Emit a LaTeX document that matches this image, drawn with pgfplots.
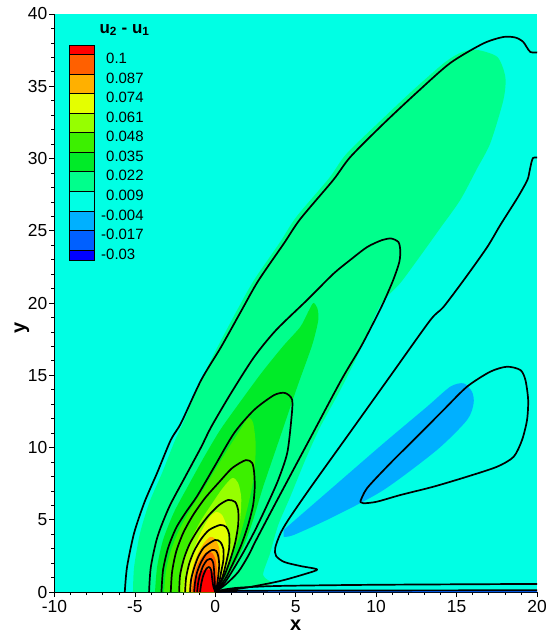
\documentclass[border=0pt]{standalone}
\usepackage{fontspec}
\setmainfont{Liberation Sans}
\usepackage{pgfplots}
\pgfplotsset{compat=1.18}

% contour level colours, from the highest band down
\definecolor{lvA}{RGB}{255,0,0}     % > 0.1
\definecolor{lvB}{RGB}{255,96,0}    % 0.087 .. 0.1
\definecolor{lvC}{RGB}{255,176,0}   % 0.074 .. 0.087
\definecolor{lvD}{RGB}{228,255,0}   % 0.061 .. 0.074
\definecolor{lvE}{RGB}{150,255,0}   % 0.048 .. 0.061
\definecolor{lvF}{RGB}{60,240,0}    % 0.035 .. 0.048
\definecolor{lvG}{RGB}{0,235,40}    % 0.022 .. 0.035
\definecolor{lvH}{RGB}{0,255,140}   % 0.009 .. 0.022
\definecolor{lvI}{RGB}{0,255,228}   % -0.004 .. 0.009
\definecolor{lvJ}{RGB}{0,176,255}   % -0.017 .. -0.004
\definecolor{lvK}{RGB}{0,96,255}    % -0.03 .. -0.017
\definecolor{lvL}{RGB}{0,0,255}     % < -0.03

\pgfplotsset{
  band/.style={draw=none, fill=#1, smooth, tension=0.45},
  iso/.style={black, line width=1.7bp, smooth, tension=0.45, line join=round},
}

\begin{document}
\begin{tikzpicture}
\useasboundingbox (-54.5bp,-42bp) rectangle (492.5bp,592bp);
\begin{axis}[
  at={(0,0)}, anchor=south west,
  scale only axis, width=482.5bp, height=578bp,
  xmin=-10, xmax=20, ymin=0, ymax=40,
  axis x line*=bottom, axis y line*=left,
  axis line style={-, black, line width=0.7bp},
  axis background/.style={fill=lvI},
  xtick={-10,-5,0,5,10,15,20}, xticklabels={-10,-5,0,5,10,15,20},
  ytick={0,5,10,15,20,25,30,35,40}, yticklabels={0,5,10,15,20,25,30,35,40},
  minor x tick num=4, minor y tick num=4,
  tick align=outside, major tick length=5bp, minor tick length=3bp,
  tick style={black, line width=0.6bp},
  ticklabel style={font=\fontsize{17.5}{18}\selectfont, inner sep=0.5bp},
  xticklabel style={yshift=-2.5bp},
  yticklabel style={xshift=-1.5bp},
  xlabel={x}, ylabel={y},
  label style={font=\fontsize{20}{20}\selectfont\bfseries, inner sep=0pt},
  xlabel style={at={(axis description cs:0.5,-0.0571)}, anchor=center},
  ylabel style={at={(axis description cs:-0.0674,0.457)}, anchor=center},
]

% ---- filled bands ----
\addplot[band=lvH] coordinates {
 (-5.12,0) (-5.05,1.73) (-4.68,4.08) (-4.09,6.23) (-3.31,8.24) (-2.50,10.52)
 (-2.00,11.70) (-0.88,14.67) (0.17,17.02) (1.36,19.52) (2.41,21.59) (4.03,24.22)
 (5.03,25.95) (7.08,28.65) (8.14,30.31) (10.26,32.60) (12.37,34.81) (14.30,36.68)
 (15.36,37.37) (16.29,37.51) (17.54,37.02) (18.03,35.64) (17.91,34.05) (17.10,31.07)
 (16.29,29.34) (15.23,27.13) (13.99,25.19) (12.74,23.25) (11.50,21.38) (10.26,19.86)
 (9.01,16.75) (7.77,13.98) (6.52,11.42) (5.59,9.13) (4.65,6.57) (3.91,4.64)
 (3.41,2.70) (2.97,1.18) (3.53,0.55) (2.17,0.28) (0.92,0.10) (0,0)};

\addplot[band=lvJ] coordinates {
 (4.24,4.29) (7.35,7.29) (10.46,10.29) (13.16,12.82) (14.61,14.21) (15.44,14.44)
 (15.96,13.86) (16.06,13.06) (15.65,11.90) (13.78,9.83) (10.46,7.06) (7.35,5.21)
 (4.86,3.94) (4.24,3.83)};

\addplot[band=lvG] coordinates {
 (-3.75,0) (-3.62,1.73) (-3.25,3.60) (-2.56,5.54) (-1.63,7.47) (-0.70,9.34)
 (0.30,11.21) (1.54,13.15) (2.91,15.22) (4.22,17.02) (5.28,18.34) (5.77,19.38)
 (6.09,20.00) (6.34,19.65) (6.40,18.82) (6.02,17.09) (5.09,14.19) (4.03,10.73)
 (2.97,7.27) (2.35,4.98) (1.79,3.25) (1.17,1.87) (0.61,0.83) (0,0)};

\addplot[band=lvF] coordinates {
 (-3.19,0) (-3.06,1.52) (-2.75,2.91) (-2.25,4.29) (-1.57,5.67) (-0.76,7.06)
 (0.05,8.58) (0.86,10.03) (1.54,11.21) (2.04,12.04) (2.35,11.70) (2.51,10.17)
 (2.41,8.10) (2.04,6.02) (1.54,3.94) (0.98,2.35) (0.48,0.97) (0,0)};

\addplot[band=lvE] coordinates {
 (-2.31,0) (-2.19,1.18) (-1.94,2.35) (-1.51,3.60) (-0.95,4.84) (-0.26,6.02)
 (0.42,7.13) (1.05,7.89) (1.42,7.54) (1.61,6.51) (1.54,4.98) (1.30,3.60)
 (0.86,2.21) (0.42,0.97) (0,0)};

\addplot[band=lvD] coordinates {
 (-2.00,0) (-1.88,1.04) (-1.63,2.08) (-1.26,3.18) (-0.82,4.29) (-0.39,5.12)
 (0.05,5.54) (0.42,5.33) (0.73,4.43) (0.80,3.18) (0.61,1.87) (0.36,0.83) (0,0)};

\addplot[band=lvC] coordinates {
 (-1.66,0) (-1.57,0.83) (-1.38,1.80) (-1.07,2.70) (-0.70,3.39) (-0.32,3.81)
 (-0.01,3.67) (0.24,3.04) (0.30,2.08) (0.21,0.97) (0,0)};

\addplot[band=lvB] coordinates {
 (-1.48,0) (-1.38,0.83) (-1.20,1.66) (-0.88,2.35) (-0.51,2.77) (-0.20,2.70)
 (0.02,2.21) (0.11,1.31) (0.08,0.48) (0,0)};

\addplot[band=lvA] coordinates {
 (-1.29,0) (-1.23,0.69) (-1.07,1.18) (-0.82,1.45) (-0.57,1.56) (-0.32,1.52)
 (-0.07,1.25) (0.05,0.83) (0.06,0.35) (0,0)};

% thin layer along the wall
\addplot[draw=none, fill=lvK] coordinates {
 (0,0) (20.2,0) (20.2,0.1) (5,0.08) (1,0.05)};

% ---- contour lines ----
\addplot[iso] coordinates {
 (-5.63,0) (-5.49,1.73) (-5.05,4.08) (-4.40,6.23) (-3.62,8.24) (-2.77,10.52)
 (-2.13,11.70) (-0.88,14.67) (0.36,16.96) (1.61,19.45) (2.66,21.52) (4.28,24.15)
 (5.28,25.81) (7.33,28.51) (8.39,30.10) (10.44,32.39) (12.56,34.60) (14.61,36.61)
 (16.66,37.96) (17.91,38.41) (18.66,38.37) (19.15,38.06) (19.59,37.37) (20.2,37.37)};

\addplot[iso] coordinates {
 (20.2,30.03) (19.75,30.03) (19.55,29.2) (19.40,28.51) (18.78,27.27) (17.72,25.40)
 (16.91,23.88) (15.54,21.73) (14.18,19.72) (13.37,18.82) (10.88,14.95) (8.39,11.07)
 (5.90,7.20) (4.53,4.98) (4.03,4.01) (3.72,3.04) (3.78,2.49) (4.28,2.08)
 (5.28,1.80) (6.33,1.56) (5.59,1.25) (4.03,0.76) (2.17,0.35) (0.92,0.14) (0,0)};

\addplot[iso] coordinates {
 (-4.12,0) (-4.01,1.73) (-3.60,3.81) (-2.87,5.88) (-1.88,7.96) (-0.88,10.03)
 (-0.26,11.42) (0.98,13.77) (2.41,16.26) (3.78,18.13) (5.71,20.21) (7.33,22.01)
 (8.39,22.98) (9.45,23.88) (10.38,24.36) (10.94,24.46) (11.38,24.22) (11.50,23.67)
 (11.44,22.84) (11.06,21.59) (10.44,20.00) (9.76,18.48) (9.01,16.89) (7.83,14.67)
 (5.84,10.52) (3.85,6.37) (2.54,3.60) (2.04,2.49) (1.42,1.38) (0.67,0.55) (0,0)};

\addplot[iso] coordinates {
 (-3.35,0) (-3.25,1.52) (-2.94,3.04) (-2.44,4.43) (-1.82,5.54) (-1.13,6.64)
 (-0.07,8.65) (1.17,11.00) (2.41,12.60) (3.66,13.63) (4.34,13.77) (4.78,13.29)
 (4.72,11.90) (4.47,9.62) (3.91,7.75) (3.22,6.02) (2.48,4.29) (1.79,2.84)
 (1.17,1.66) (0.61,0.69) (0,0)};

\addplot[iso] coordinates {
 (-2.77,0) (-2.69,1.38) (-2.44,2.77) (-2.00,4.08) (-1.38,5.33) (-0.63,6.51)
 (0.24,7.61) (1.05,8.58) (1.90,9.13) (2.29,8.93) (2.41,8.30) (2.45,7.27)
 (2.35,6.02) (2.04,4.64) (1.61,3.25) (1.11,2.01) (0.61,0.90) (0,0)};

\addplot[iso] coordinates {
 (-2.25,0) (-2.19,1.18) (-1.94,2.35) (-1.57,3.39) (-1.01,4.43) (-0.39,5.33)
 (0.24,6.02) (0.80,6.37) (1.23,6.23) (1.42,5.67) (1.42,4.64) (1.23,3.39)
 (0.92,2.21) (0.55,1.11) (0,0)};

\addplot[iso] coordinates {
 (-1.88,0) (-1.82,0.97) (-1.63,1.94) (-1.32,2.84) (-0.88,3.67) (-0.39,4.29)
 (0.30,4.64) (0.67,4.50) (0.86,4.01) (0.86,3.04) (0.67,2.01) (0.42,0.97) (0,0)};

\addplot[iso] coordinates {
 (-1.57,0) (-1.51,0.83) (-1.32,1.66) (-1.07,2.42) (-0.69,3.11) (-0.01,3.60)
 (0.31,3.46) (0.50,2.98) (0.50,2.21) (0.36,1.38) (0.24,0.69) (0,0)};

\addplot[iso] coordinates {
 (-1.32,0) (-1.26,0.69) (-1.13,1.38) (-0.88,2.08) (-0.57,2.63) (-0.20,2.91)
 (0.05,2.84) (0.18,2.49) (0.24,1.87) (0.18,1.11) (0.11,0.48) (0,0)};

\addplot[iso] coordinates {
 (-1.13,0) (-1.07,0.62) (-0.94,1.25) (-0.76,1.80) (-0.51,2.21) (-0.26,2.28)
 (-0.13,2.01) (-0.07,1.38) (-0.04,0.69) (0,0)};

\addplot[iso] coordinates {
 (-0.95,0) (-0.88,0.55) (-0.76,1.11) (-0.57,1.59) (-0.39,1.73) (-0.26,1.52)
 (-0.20,0.97) (-0.13,0.42) (0,0)};

% closed negative loop
\addplot[iso] coordinates {
 (9.01,6.25) (9.43,7.18) (10.88,8.91) (12.54,10.75) (14.19,12.60) (15.65,14.21)
 (17.10,15.25) (18.14,15.59) (18.97,15.36) (19.28,14.67) (19.45,13.29) (19.38,11.90)
 (19.07,10.52) (18.55,9.36) (17.52,8.67) (15.65,7.98) (13.57,7.29) (11.50,6.71)
 (10.05,6.25) (9.22,6.14) (9.01,6.25)};

% lines along the wall
\addplot[iso] coordinates {
 (0,0) (0.5,0.16) (1.5,0.3) (4,0.42) (10,0.5) (20.2,0.56)};
\addplot[iso] coordinates {
 (0,0) (1,0.07) (5,0.1) (20.2,0.12)};

\end{axis}

% ---- colour key ----
\begin{scope}[x=1bp, y=1bp]
\begin{scope}[draw=black, line width=0.5bp]
\filldraw[fill=lvA] (14.5,537.7) rectangle (39.5,547);
\filldraw[fill=lvB] (14.5,518.1) rectangle (39.5,537.7);
\filldraw[fill=lvC] (14.5,498.6) rectangle (39.5,518.1);
\filldraw[fill=lvD] (14.5,479.0) rectangle (39.5,498.6);
\filldraw[fill=lvE] (14.5,459.4) rectangle (39.5,479.0);
\filldraw[fill=lvF] (14.5,439.9) rectangle (39.5,459.4);
\filldraw[fill=lvG] (14.5,420.3) rectangle (39.5,439.9);
\filldraw[fill=lvH] (14.5,400.7) rectangle (39.5,420.3);
\filldraw[fill=lvI] (14.5,381.1) rectangle (39.5,400.7);
\filldraw[fill=lvJ] (14.5,361.6) rectangle (39.5,381.1);
\filldraw[fill=lvK] (14.5,342.0) rectangle (39.5,361.6);
\filldraw[fill=lvL] (14.5,332.0) rectangle (39.5,342.0);
\end{scope}
\begin{scope}[every node/.style={anchor=west, inner sep=0pt, font=\fontsize{15}{15}\selectfont}]
\node at (51.5,533.7) {0.1};
\node at (51.5,514.1) {0.087};
\node at (51.5,494.6) {0.074};
\node at (51.5,475.0) {0.061};
\node at (51.5,455.4) {0.048};
\node at (51.5,435.9) {0.035};
\node at (51.5,416.3) {0.022};
\node at (51.5,396.7) {0.009};
\node at (51.5,377.1) {\llap{-}0.004};
\node at (51.5,357.6) {\llap{-}0.017};
\node at (51.5,338.0) {\llap{-}0.03};
\end{scope}
\node[anchor=base, inner sep=0pt, font=\fontsize{17}{17}\selectfont\bfseries]
  at (70,558.7) {u\textsubscript{2} - u\textsubscript{1}};
\end{scope}
\end{tikzpicture}
\end{document}
